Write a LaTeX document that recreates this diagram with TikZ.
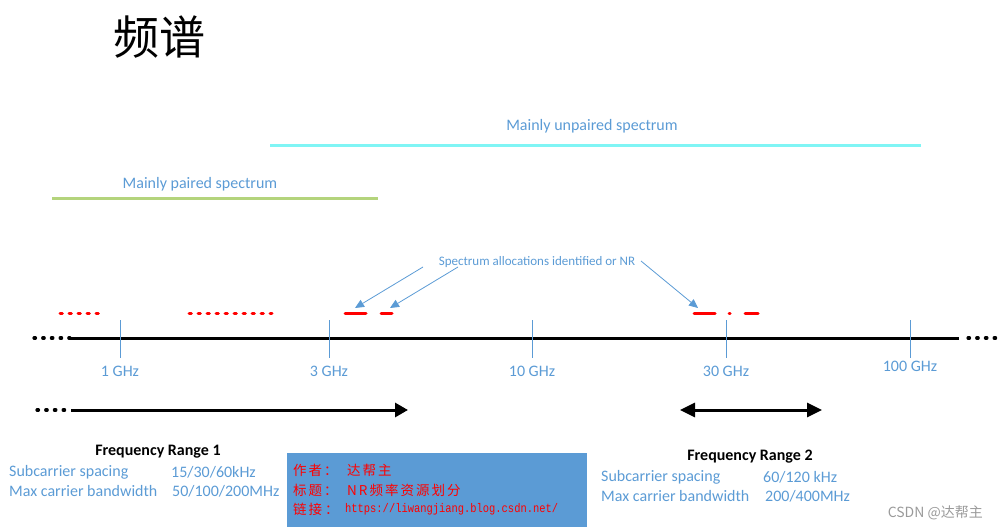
\documentclass[tikz,border=0pt]{standalone}
\usepackage{fontspec}
\setmainfont{Carlito}
\newfontfamily\cjk{Noto Sans CJK SC}
\newfontfamily\redcjk[LetterSpace=15]{Noto Sans CJK SC}
\newfontfamily\urlfont{Liberation Mono}
\usetikzlibrary{arrows.meta,positioning}

\definecolor{labelblue}{HTML}{5B9BD5}
\definecolor{pairgreen}{HTML}{B4D47C}
\definecolor{unpaircyan}{HTML}{80F5F5}
\definecolor{allocred}{HTML}{FF0000}
\definecolor{markgray}{HTML}{9A9A9A}

\begin{document}
\begin{tikzpicture}[x=1pt, y=-1pt]
  \tikzset{
    blue_text/.style={text=labelblue, inner sep=0pt, font=\fontsize{16}{18}\selectfont},
    small_text/.style={text=labelblue, inner sep=0pt, font=\fontsize{13}{15}\selectfont},
    head_text/.style={inner sep=0pt, font=\bfseries\fontsize{16}{18}\selectfont},
    red_text/.style={text=allocred, inner sep=0pt, anchor=west, font=\redcjk\fontsize{13.5}{15}\selectfont},
    tick_line/.style={draw=labelblue, line width=1pt},
    axis_line/.style={line width=3pt},
    dot_line/.style={line width=3.2pt, line cap=round, dash pattern=on 1.5pt off 7.2pt},
    red_dots/.style={draw=allocred, line width=3pt, line cap=round, dash pattern=on 2.3pt off 6.7pt},
    red_band/.style={draw=allocred, line width=3pt, line cap=round},
    point_arrow/.style={draw=labelblue, line width=0.8pt, -{Triangle[length=9pt, width=8pt]}}
  }
  \useasboundingbox (0,0) rectangle (998,529);

  % Titel
  \node[inner sep=0pt, font=\cjk\fontsize{46}{50}\selectfont] (title) at (159,37) {频谱};

  % Bereiche paired / unpaired
  \coordinate (unpaired_l) at (270,146);
  \coordinate (unpaired_r) at (921,146);
  \draw[unpaircyan, line width=3pt] (unpaired_l) -- (unpaired_r);
  \node[blue_text] (unpaired) at (592,126) {Mainly unpaired spectrum};

  \coordinate (paired_l) at (52,199);
  \coordinate (paired_r) at (378,199);
  \draw[pairgreen, line width=3pt] (paired_l) -- (paired_r);
  \node[blue_text] (paired) at (200,184) {Mainly paired spectrum};

  % Frequenzachse
  \coordinate (axis_far_l) at (34,338);
  \coordinate (axis_l) at (70,338);
  \coordinate (axis_r) at (959,338);
  \coordinate (axis_far_r) at (997,338);
  \draw[axis_line] (axis_l) -- (axis_r);
  \draw[dot_line] (axis_far_l) -- (axis_l);
  \draw[dot_line] (axis_r) ++(9,0) -- (axis_far_r);

  % Markierungen
  \foreach \x/\name/\lab/\ly in {120/ta/1 GHz/371, 329/tb/3 GHz/371, 532/tc/10 GHz/371,
                                  726/td/30 GHz/371, 910/te/100 GHz/366} {
    \coordinate (\name_top) at (\x,320);
    \coordinate (\name_bot) at (\x,358);
    \draw[tick_line] (\name_top) -- (\name_bot);
    \node[blue_text] (\name_lab) at (\x,\ly) {\lab};
  }

  % Zuteilungen
  \coordinate (ra_l) at (60,313);   \coordinate (ra_r) at (99,313);
  \coordinate (rb_l) at (189,313);  \coordinate (rb_r) at (272,313);
  \coordinate (rc_l) at (345,313);  \coordinate (rc_r) at (366,313);
  \coordinate (rd_l) at (381,313);  \coordinate (rd_r) at (392,313);
  \coordinate (re_l) at (694,313);  \coordinate (re_r) at (715,313);
  \coordinate (rf_l) at (729,313);  \coordinate (rf_r) at (730,313);
  \coordinate (rg_l) at (745,313);  \coordinate (rg_r) at (758,313);
  \draw[red_dots] (ra_l) -- (ra_r);
  \draw[red_dots] (rb_l) -- (rb_r);
  \draw[red_band] (rc_l) -- (rc_r);
  \draw[red_band] (rd_l) -- (rd_r);
  \draw[red_band] (re_l) -- (re_r);
  \draw[red_band] (rf_l) -- (rf_r);
  \draw[red_band] (rg_l) -- (rg_r);

  \node[small_text] (alloc) at (537,262) {Spectrum allocations identified or NR};
  \draw[point_arrow] (423,267) -- (355,308);
  \draw[point_arrow] (458,267) -- (390,308);
  \draw[point_arrow] (641,261) -- (698,308);

  % FR1 und FR2
  \coordinate (fr1_far) at (37,410);
  \coordinate (fr1_l) at (71,410);
  \coordinate (fr1_r) at (408,410);
  \draw[dot_line] (fr1_far) -- (fr1_l);
  \draw[line width=3pt, -{Triangle[length=13pt, width=14pt]}] (fr1_l) -- (fr1_r);

  \coordinate (fr2_l) at (680,410);
  \coordinate (fr2_r) at (822,410);
  \draw[line width=3pt, {Triangle[length=15pt, width=14pt]}-{Triangle[length=15pt, width=14pt]}] (fr2_l) -- (fr2_r);

  \node[head_text] (fr1) at (158,452) {Frequency Range 1};
  \node[blue_text, anchor=west] (fr1_scs) at (9,472) {Subcarrier spacing};
  \node[blue_text, anchor=west] (fr1_scs_v) at (171,472) {15/30/60kHz};
  \node[blue_text, anchor=west] (fr1_bw) at (9,491) {Max carrier bandwidth};
  \node[blue_text, anchor=west] (fr1_bw_v) at (172,491) {50/100/200MHz};

  \node[head_text] (fr2) at (750,457) {Frequency Range 2};
  \node[blue_text, anchor=west] (fr2_scs) at (601,477) {Subcarrier spacing};
  \node[blue_text, anchor=west] (fr2_scs_v) at (763,477) {60/120 kHz};
  \node[blue_text, anchor=west] (fr2_bw) at (601,496) {Max carrier bandwidth};
  \node[blue_text, anchor=west] (fr2_bw_v) at (765,496) {200/400MHz};

  % Kasten
  \fill[labelblue] (287,453) rectangle (587,527);
  \node[red_text] (author_key) at (293,470) {作者：};
  \node[red_text] (author_val) at (347,470) {达帮主};
  \node[red_text] (topic_key) at (293,490) {标题：};
  \node[red_text] (topic_val) at (347,490) {NR频率资源划分};
  \node[red_text] (link_key) at (293,509) {链接\hspace{3pt}：};
  \node[red_text, xscale=0.835, font=\urlfont\fontsize{12.5}{14}\selectfont] (link_val) at (345,509) {https://liwangjiang.blog.csdn.net/};

  \node[inner sep=0pt, anchor=east, text=markgray, font=\cjk\fontsize{14}{16}\selectfont] (mark) at (983,513) {CSDN @达帮主};
\end{tikzpicture}
\end{document}
